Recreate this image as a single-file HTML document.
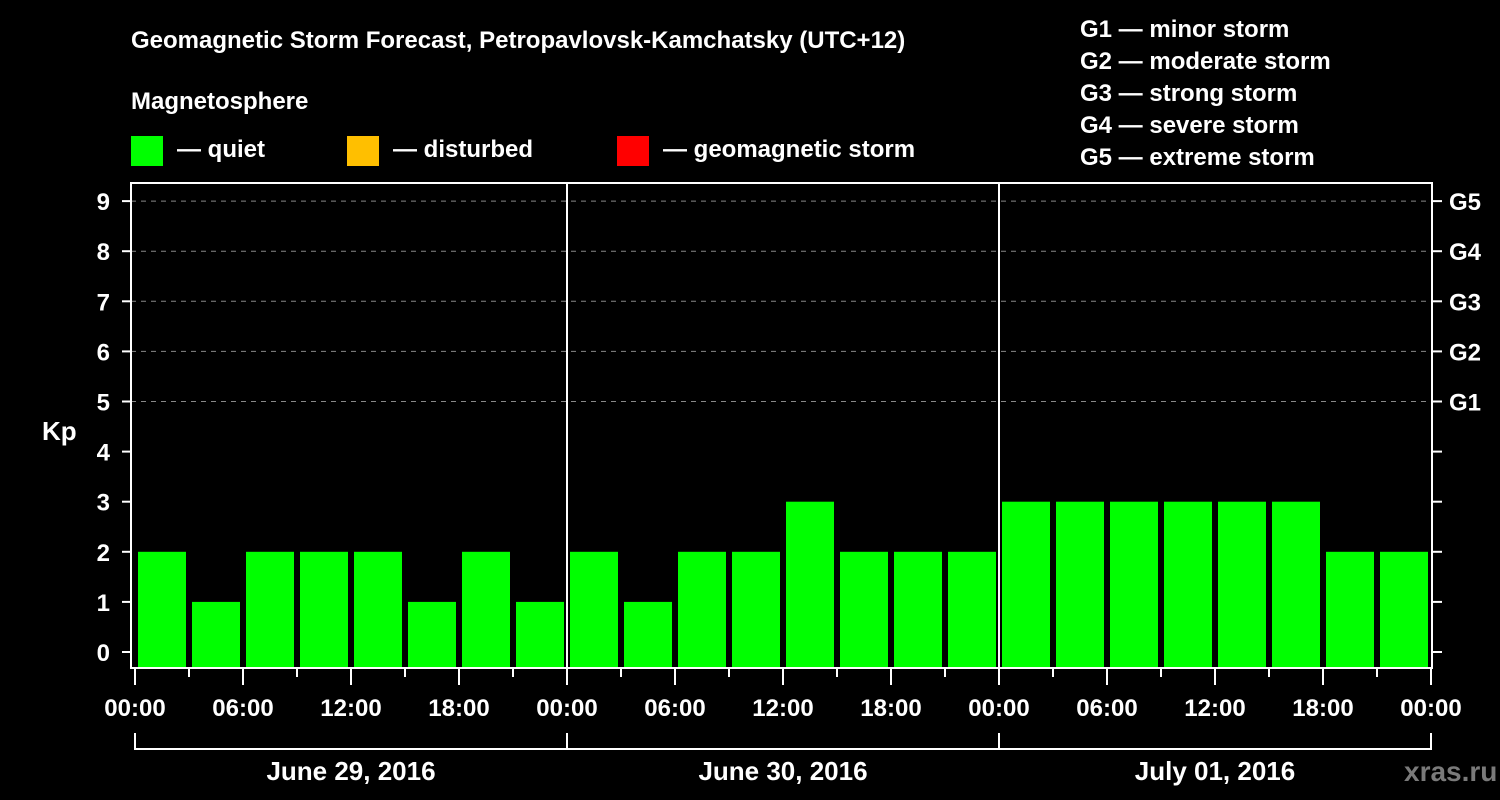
<!DOCTYPE html>
<html><head><meta charset="utf-8"><style>
html,body{margin:0;padding:0;background:#000;}
svg{display:block;font-family:"Liberation Sans",sans-serif;font-weight:bold;}
</style></head><body>
<svg id="chart" width="1500" height="800" viewBox="0 0 1500 800">
<rect x="0" y="0" width="1500" height="800" fill="#000"/>
<text x="131" y="48" fill="#fff" font-size="24">Geomagnetic Storm Forecast, Petropavlovsk-Kamchatsky (UTC+12)</text>
<text x="131" y="109" fill="#fff" font-size="24">Magnetosphere</text>
<g><rect x="131" y="136" width="32" height="30" fill="#00ff00"/><text x="177" y="157" fill="#fff" font-size="24">— quiet</text></g>
<g><rect x="347" y="136" width="32" height="30" fill="#ffbf00"/><text x="393" y="157" fill="#fff" font-size="24">— disturbed</text></g>
<g><rect x="617" y="136" width="32" height="30" fill="#ff0000"/><text x="663" y="157" fill="#fff" font-size="24">— geomagnetic storm</text></g>
<g fill="#fff" font-size="24">
<text x="1080" y="37">G1 — minor storm</text>
<text x="1080" y="69">G2 — moderate storm</text>
<text x="1080" y="101">G3 — strong storm</text>
<text x="1080" y="133">G4 — severe storm</text>
<text x="1080" y="165">G5 — extreme storm</text>
</g>
<text x="42" y="440" fill="#fff" font-size="26">Kp</text>
<text x="1404" y="781" fill="#7a7a7a" font-size="28">xras.ru</text>
<g id="grid"></g><g id="bars"></g><g id="axes"></g>
</svg>
<script>
const days = ["June 29, 2016","June 30, 2016","July 01, 2016"];
const kpValues = [2,1,2,2,2,1,2,1, 2,1,2,2,3,2,2,2, 3,3,3,3,3,3,2,2];
const yTicks = [0,1,2,3,4,5,6,7,8,9];
const gLabels = ["G1","G2","G3","G4","G5"];
const gLevels = [5,6,7,8,9];
const hourLabels = ["00:00","06:00","12:00","18:00"];

const NS="http://www.w3.org/2000/svg";
const X0=135, DAYW=432, SLOT=54, PL=131, PR=1432, PT=183, PB=668;
const yS = v => 652 - v*50.1;
const xS = h => X0 + h/24*DAYW; // h in hours from start
function mk(tag, attrs, parent, text){const e=document.createElementNS(NS,tag);for(const k in attrs)e.setAttribute(k,attrs[k]);if(text!==undefined)e.textContent=text;parent.appendChild(e);return e;}
const grid=document.getElementById('grid'), bars=document.getElementById('bars'), axes=document.getElementById('axes');

// gridlines
yTicks.forEach(v=>{ if(v>=5){const l=mk('line',{x1:PL,x2:PR,y1:yS(v),y2:yS(v),stroke:'#888','stroke-dasharray':'5,5','stroke-width':1},grid);

}});

// bars
kpValues.forEach((v,i)=>{
 const color = v>=5?'#ff0000':(v>=4?'#ffbf00':'#00ff00');
 const x=xS(i*3)+3;
 const r=mk('rect',{x:x,y:yS(v),width:SLOT-6,height:PB-yS(v),fill:color},bars);
 
 
});

// frame
const f=mk('rect',{x:PL,y:PT,width:PR-PL,height:PB-PT,fill:'none',stroke:'#fff','stroke-width':2},axes);


// day separators
for(let d=1; d<days.length; d++){
 const l=mk('line',{x1:xS(d*24),x2:xS(d*24),y1:PT,y2:PB,stroke:'#fff','stroke-width':2},axes);
 
 
}
// y ticks
yTicks.forEach(v=>{
 mk('line',{x1:122,x2:PL,y1:yS(v),y2:yS(v),stroke:'#fff','stroke-width':2},axes);
 mk('line',{x1:PR,x2:1442,y1:yS(v),y2:yS(v),stroke:'#fff','stroke-width':2},axes);
 const t=mk('text',{x:110,y:yS(v)+9,fill:'#fff','font-size':24,'text-anchor':'end'},axes,String(v));
 
 
});
gLevels.forEach((v,i)=>{
 const t=mk('text',{x:1449,y:yS(v)+9,fill:'#fff','font-size':24},axes,gLabels[i]);
 
 
});
// x ticks
for(let h=0; h<=days.length*24; h+=3){
 const major = h%6===0;
 mk('line',{x1:xS(h),x2:xS(h),y1:PB,y2:PB+(major?17:9),stroke:'#fff','stroke-width':2},axes);
 if(major){
  const t=mk('text',{x:xS(h),y:716,fill:'#fff','font-size':24,'text-anchor':'middle'},axes,hourLabels[(h/6)%4]);
  
  
 }
}
// day brackets
days.forEach((d,i)=>{
 const a=xS(i*24), b=xS((i+1)*24);
 mk('line',{x1:a,x2:a,y1:733,y2:750,stroke:'#fff','stroke-width':2},axes);
 mk('line',{x1:a,x2:b,y1:749,y2:749,stroke:'#fff','stroke-width':2},axes);
 const t=mk('text',{x:(a+b)/2,y:780,fill:'#fff','font-size':26,'text-anchor':'middle'},axes,d);
 
 
});
mk('line',{x1:xS(days.length*24),x2:xS(days.length*24),y1:733,y2:750,stroke:'#fff','stroke-width':2},axes);
</script>
</body></html>
